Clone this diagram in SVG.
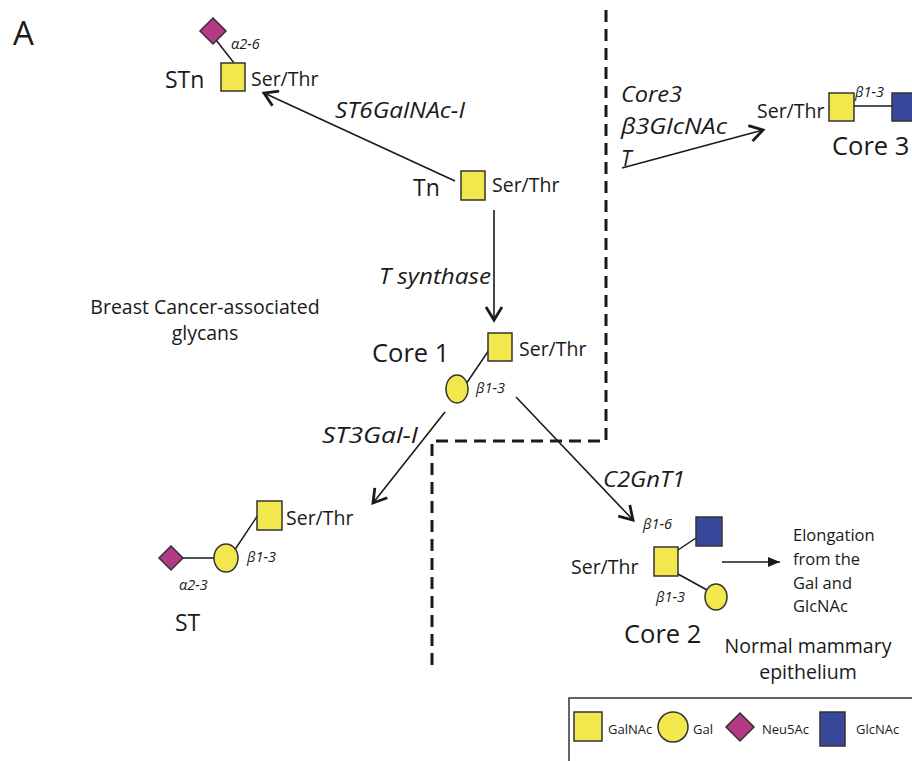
<svg xmlns="http://www.w3.org/2000/svg" width="912" height="761" viewBox="0 0 912 761">
<style>
text{font-family:"Open Sans","Noto Sans","Liberation Sans",sans-serif;fill:#1a1a1a}
.big{font-size:23px}
.core{font-size:25.5px}
.st{font-size:19.5px}
.lk{font-size:14.5px;font-style:italic}
.en{font-size:21px;font-style:italic}
.gn{fill:#f2e74c;stroke:#333;stroke-width:1.5}
.ga{fill:#f2e74c;stroke:#333;stroke-width:1.5}
.na{fill:#b43a85;stroke:#333;stroke-width:1.5}
.gl{fill:#3a489c;stroke:#333;stroke-width:1.5}
.bd{stroke:#1a1a1a;stroke-width:1.5;fill:none}
.ar{stroke:#1a1a1a;stroke-width:1.6;fill:none}
.dash{stroke:#1a1a1a;stroke-width:3;fill:none;stroke-dasharray:12 7}
</style>
<defs>
<marker id="v" markerUnits="userSpaceOnUse" markerWidth="22" markerHeight="22" viewBox="0 0 22 22" refX="18" refY="11" orient="auto">
<path d="M5,3 L18,11 L5,19" fill="none" stroke="#1a1a1a" stroke-width="2.8" stroke-linejoin="miter"/>
</marker>
<marker id="t" markerUnits="userSpaceOnUse" markerWidth="14" markerHeight="14" viewBox="0 0 14 14" refX="12" refY="7" orient="auto">
<path d="M0,2 L12,7 L0,12 Z" fill="#1a1a1a"/>
</marker>
</defs>
<rect width="912" height="761" fill="#fff"/>
<text x="13" y="45" style="font-size:33px">A</text>

<g id="connectors">
<line class="ar" x1="455" y1="181" x2="264" y2="93" marker-end="url(#v)"/>
<line class="ar" x1="494" y1="210" x2="494" y2="320" marker-end="url(#v)"/>
<line class="ar" x1="445" y1="412" x2="373" y2="503" marker-end="url(#v)"/>
<line class="ar" x1="516" y1="397" x2="633" y2="520" marker-end="url(#v)"/>
<line class="ar" x1="622" y1="168" x2="763" y2="130" marker-end="url(#v)"/>
<line class="ar" x1="722" y1="562" x2="780" y2="562" marker-end="url(#t)"/>
<text class="en" x="335" y="118" textLength="130" lengthAdjust="spacingAndGlyphs">ST6GalNAc-I</text>
<text class="en" x="379" y="284" textLength="112" lengthAdjust="spacingAndGlyphs">T synthase</text>
<text class="en" x="322" y="443" textLength="96" lengthAdjust="spacingAndGlyphs">ST3Gal-I</text>
<text class="en" x="603" y="487" textLength="82" lengthAdjust="spacingAndGlyphs">C2GnT1</text>
<text class="en" x="621" y="102" textLength="61" lengthAdjust="spacingAndGlyphs">Core3</text>
<text class="en" x="621" y="134" textLength="106" lengthAdjust="spacingAndGlyphs">β3GlcNAc</text>
<text class="en" x="621" y="166">T</text>
</g>

<g id="boundary">
<path class="dash" d="M606,10 V441 H432 V668"/>
</g>

<g id="STn">
<line class="bd" x1="216" y1="40" x2="234" y2="63"/>
<path class="na" d="M213,18 L226,31 L213,44 L200,31 Z"/>
<rect class="gn" x="221" y="63" width="24" height="28"/>
<text class="lk" x="231" y="49">α2-6</text>
<text class="big" x="165" y="88">STn</text>
<text class="st" x="251" y="86">Ser/Thr</text>
</g>

<g id="Tn">
<rect class="gn" x="461" y="171" width="24" height="29"/>
<text class="big" x="413" y="196">Tn</text>
<text class="st" x="492" y="192">Ser/Thr</text>
</g>

<g id="Core1">
<line class="bd" x1="466" y1="384" x2="489" y2="350"/>
<rect class="gn" x="488" y="333" width="24" height="28"/>
<ellipse class="ga" cx="457" cy="389" rx="11" ry="14"/>
<text class="lk" x="476" y="393">β1-3</text>
<text class="core" x="372" y="362">Core 1</text>
<text class="st" x="519" y="356">Ser/Thr</text>
</g>

<g id="label-cancer">
<text x="205" y="314" text-anchor="middle" style="font-size:19.5px">Breast Cancer-associated</text>
<text x="205" y="340" text-anchor="middle" style="font-size:19.5px">glycans</text>
</g>

<g id="ST">
<line class="bd" x1="183" y1="558" x2="214" y2="558"/>
<line class="bd" x1="234" y1="551" x2="258" y2="515"/>
<path class="na" d="M171,546 L183,558 L171,570 L159,558 Z"/>
<ellipse class="ga" cx="226" cy="558" rx="12" ry="14"/>
<rect class="gn" x="257" y="501" width="25" height="29"/>
<text class="st" x="286" y="525">Ser/Thr</text>
<text class="lk" x="247" y="562">β1-3</text>
<text class="lk" x="179" y="590">α2-3</text>
<text class="big" x="175" y="631">ST</text>
</g>

<g id="Core2">
<line class="bd" x1="678" y1="550" x2="696" y2="538"/>
<line class="bd" x1="678" y1="574" x2="707" y2="590"/>
<rect class="gn" x="654" y="547" width="24" height="29"/>
<rect class="gl" x="696" y="517" width="26" height="29"/>
<ellipse class="ga" cx="716" cy="597" rx="11" ry="13"/>
<text class="lk" x="643" y="529">β1-6</text>
<text class="lk" x="656" y="602">β1-3</text>
<text class="st" x="571" y="574">Ser/Thr</text>
<text class="core" x="624" y="643">Core 2</text>
</g>

<g id="elongation">
<text x="793" y="541" style="font-size:16.5px">Elongation</text>
<text x="793" y="565" style="font-size:16.5px">from the</text>
<text x="793" y="589" style="font-size:16.5px">Gal and</text>
<text x="793" y="612" style="font-size:16.5px">GlcNAc</text>
</g>

<g id="label-normal">
<text x="808" y="653" text-anchor="middle" style="font-size:19.5px">Normal mammary</text>
<text x="808" y="679" text-anchor="middle" style="font-size:19.5px">epithelium</text>
</g>

<g id="Core3">
<line class="bd" x1="854" y1="106" x2="892" y2="106"/>
<rect class="gn" x="829" y="93" width="25" height="28"/>
<rect class="gl" x="892" y="93" width="26" height="28"/>
<text class="lk" x="855" y="97">β1-3</text>
<text class="st" x="757" y="118">Ser/Thr</text>
<text class="core" x="832" y="155">Core 3</text>
</g>

<g id="legend">
<rect x="569" y="698" width="360" height="70" fill="#fff" stroke="#333" stroke-width="1.5"/>
<rect class="gn" x="574" y="712" width="28" height="29"/>
<text x="608" y="734" style="font-size:13px">GalNAc</text>
<ellipse class="ga" cx="673" cy="727" rx="15" ry="15"/>
<text x="693" y="734" style="font-size:13px">Gal</text>
<path class="na" d="M740,713 L754,727 L740,741 L726,727 Z"/>
<text x="762" y="734" style="font-size:13px">Neu5Ac</text>
<rect class="gl" x="820" y="712" width="25" height="34"/>
<text x="856" y="734" style="font-size:13px">GlcNAc</text>
</g>
</svg>
